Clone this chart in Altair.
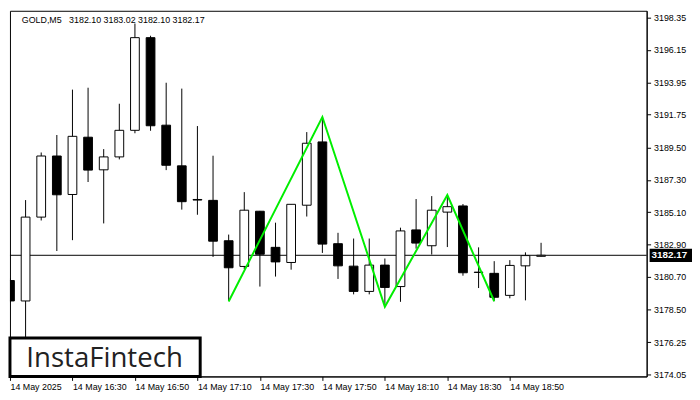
import json
import altair as alt
import pandas as pd

# ---- data (GOLD, M5) ----
bar_index = list(range(35))
open_ = [3180.45, 3179.06, 3184.77, 3188.93, 3186.31, 3190.21, 3187.99, 3188.87, 3190.68, 3196.99,
         3191.03, 3188.26, 3185.97, 3185.91, 3183.16, 3181.41, 3185.17, 3182.71, 3181.68, 3185.58,
         3189.89, 3182.96, 3181.43, 3179.71, 3181.50, 3180.04, 3183.90, 3182.82, 3185.11, 3185.53,
         3181.00, 3180.94, 3179.44, 3181.45, 3182.10]
high = [3180.60, 3185.93, 3189.17, 3190.36, 3193.45, 3193.58, 3189.40, 3192.49, 3197.95, 3197.12,
        3193.92, 3193.52, 3190.97, 3188.95, 3183.58, 3186.47, 3185.19, 3184.39, 3185.66, 3190.56,
        3191.59, 3183.70, 3183.31, 3183.31, 3181.95, 3184.05, 3186.00, 3186.20, 3186.20, 3185.66,
        3182.71, 3181.77, 3181.84, 3182.37, 3183.02]
low = [3178.95, 3176.47, 3184.54, 3182.46, 3183.20, 3187.16, 3184.34, 3188.70, 3190.48, 3190.65,
       3187.97, 3185.28, 3184.93, 3182.06, 3179.05, 3181.23, 3180.04, 3180.72, 3181.19, 3184.81,
       3182.33, 3180.56, 3179.51, 3179.51, 3178.66, 3179.00, 3182.62, 3182.22, 3182.73, 3180.78,
       3179.94, 3179.04, 3179.24, 3179.10, 3182.10]
close = [3179.06, 3184.77, 3188.93, 3186.29, 3190.27, 3187.97, 3188.87, 3190.68, 3196.99, 3190.99,
         3188.30, 3185.82, 3185.93, 3183.13, 3181.32, 3185.24, 3182.24, 3181.72, 3185.64, 3189.80,
         3182.93, 3181.45, 3179.71, 3181.50, 3179.98, 3183.83, 3183.00, 3185.24, 3185.48, 3180.98,
         3181.02, 3179.31, 3181.48, 3182.15, 3182.17]

pattern_index = [14, 20, 24, 28, 31]
pattern_price = [3179.02, 3191.59, 3178.66, 3186.27, 3179.04]

time_ticks = [0, 4, 8, 12, 16, 20, 24, 28, 32]
time_labels = ["14 May 2025", "14 May 16:30", "14 May 16:50", "14 May 17:10", "14 May 17:30",
               "14 May 17:50", "14 May 18:10", "14 May 18:30", "14 May 18:50"]
price_ticks = [3198.35, 3196.15, 3193.95, 3191.75, 3189.50, 3187.30, 3185.10, 3182.90,
               3180.70, 3178.50, 3176.25, 3174.05]

symbol_text = ["GOLD,M5"]
ohlc_text = ["3182.10 3183.02 3182.10 3182.17"]
last_price = [3182.17]
logo_text = ["InstaFintech"]

# ---- chart ----
W, H = 646, 371
FONT = "Liberation Sans"

bars = pd.DataFrame({"k": bar_index, "open": open_, "high": high, "low": low, "close": close})
pattern = pd.DataFrame({"k": pattern_index, "p": pattern_price})
price_df = pd.DataFrame({"p": last_price, "label": [f"{v:.2f}" for v in last_price]})

xscale = alt.Scale(domain=[0, 40.76], nice=False, zero=False)
yscale = alt.Scale(domain=[3173.92, 3198.82], nice=False, zero=False)

label_expr = f"{json.dumps(time_labels)}[round(datum.value/4)]"
xaxis = alt.Axis(values=time_ticks, labelExpr=label_expr, title=None, grid=False,
                 labelAlign="left", labelFlush=False, labelOverlap=False, labelPadding=2,
                 tickSize=4, labelFont=FONT, labelFontSize=9, labelColor="black",
                 domainColor="black", tickColor="black", labelBound=False)
yaxis = alt.Axis(values=price_ticks, format=".2f", orient="right", title=None, grid=False,
                 tickSize=4, labelPadding=3, labelFont=FONT, labelFontSize=9,
                 labelColor="black", domainColor="black", tickColor="black",
                 labelOverlap=False, labelFlush=False)

wicks = alt.Chart(bars).mark_rule(color="black", strokeWidth=1, clip=True).encode(
    x=alt.X("k:Q", scale=xscale, axis=xaxis),
    y=alt.Y("low:Q", scale=yscale, axis=yaxis),
    y2="high:Q",
)

bodies = alt.Chart(bars).transform_calculate(
    x0="datum.k - 0.28", x1="datum.k + 0.28"
).mark_rect(stroke="black", strokeWidth=1, clip=True).encode(
    x=alt.X("x0:Q", scale=xscale, axis=xaxis),
    x2="x1:Q",
    y=alt.Y("open:Q", scale=yscale, axis=yaxis),
    y2="close:Q",
    fill=alt.condition("datum.close >= datum.open", alt.value("white"), alt.value("black")),
)

price_line = alt.Chart(price_df).mark_rule(color="black", strokeWidth=1).encode(
    y=alt.Y("p:Q", scale=yscale, axis=yaxis)
)

pattern_line = alt.Chart(pattern).mark_line(color="#00ee00", strokeWidth=2, clip=True).encode(
    x=alt.X("k:Q", scale=xscale, axis=xaxis),
    y=alt.Y("p:Q", scale=yscale, axis=yaxis),
)

price_box = alt.Chart(price_df).transform_calculate(
    ptop="datum.p + 0.45", pbot="datum.p - 0.45"
).mark_rect(color="black").encode(
    x=alt.value(W + 3), x2=alt.value(W + 46),
    y=alt.Y("ptop:Q", scale=yscale, axis=yaxis), y2="pbot:Q",
)
price_text = alt.Chart(price_df).mark_text(
    color="white", font=FONT, fontSize=10, fontWeight="bold", align="left", baseline="middle"
).encode(
    x=alt.value(W + 5),
    y=alt.Y("p:Q", scale=yscale, axis=yaxis),
    text="label:N",
)

title1 = alt.Chart(pd.DataFrame({"t": symbol_text})).mark_text(
    font=FONT, fontSize=9, color="black", align="left", baseline="middle"
).encode(x=alt.value(12), y=alt.value(9), text="t:N")
title2 = alt.Chart(pd.DataFrame({"t": ohlc_text})).mark_text(
    font=FONT, fontSize=9, color="black", align="left", baseline="middle"
).encode(x=alt.value(60), y=alt.value(9), text="t:N")

logo_box = alt.Chart(pd.DataFrame({"t": logo_text})).mark_rect(
    fill="white", stroke="black", strokeWidth=3
).encode(x=alt.value(0), x2=alt.value(193), y=alt.value(H - 39), y2=alt.value(H))
logo = alt.Chart(pd.DataFrame({"t": logo_text})).mark_text(
    font="Open Sans", fontSize=28, color="#222222", align="center", baseline="alphabetic"
).encode(x=alt.value(96), y=alt.value(H - 10), text="t:N")

chart = alt.layer(
    price_line, wicks, bodies, pattern_line, price_box, price_text,
    title1, title2, logo_box, logo
).properties(
    width=W, height=H,
    padding={"left": 0, "top": 0, "right": 0, "bottom": 0},
    background="white",
).configure_view(stroke="black", strokeWidth=1)

chart.save("out.html", embed_options={"renderer": "svg", "actions": False})
